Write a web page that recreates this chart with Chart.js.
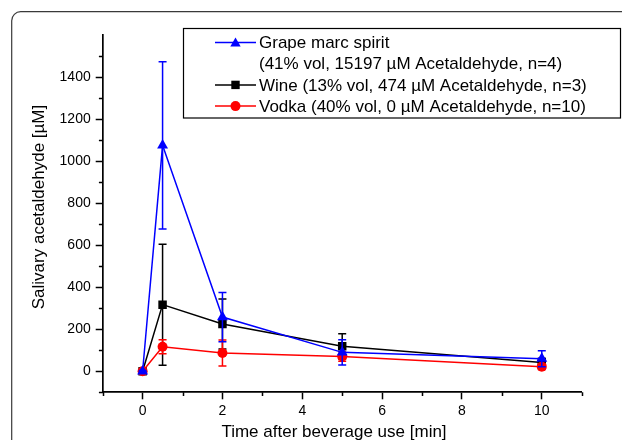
<!DOCTYPE html>
<html>
<head>
<meta charset="utf-8">
<script src="https://cdn.jsdelivr.net/npm/chart.js@4.4.1/dist/chart.umd.min.js"></script>
<style>
  html, body { margin: 0; padding: 0; background: #fff; }
  canvas { display: block; }
</style>
</head>
<body>
<canvas id="c" width="622" height="440"></canvas>
<script>
// ---- data ----
const timeMin = [0, 0.5, 2, 5, 10];
const grapeMean = [0, 1075, 258, 90, 60];
const grapeSD   = [4, 398, 117, 60, 38];
const wineMean  = [0, 317, 225, 119, 42];
const wineSD    = [4, 288, 119, 60, 20];
const vodkaMean = [0, 117, 87, 70, 22];
const vodkaSD   = [4, 33, 62, 22, 14];
const seriesNames = [
  ['Grape marc spirit', '(41% vol, 15197 \u00B5M Acetaldehyde, n=4)'],
  ['Wine (13% vol, 474 \u00B5M Acetaldehyde, n=3)'],
  ['Vodka (40% vol, 0 \u00B5M Acetaldehyde, n=10)']
];
const xTicks = [0, 2, 4, 6, 8, 10];
const xMinorTicks = [-1, 1, 3, 5, 7, 9, 11];
const yTicks = [0, 200, 400, 600, 800, 1000, 1200, 1400];
const yMinorTicks = [-100, 100, 300, 500, 700, 900, 1100, 1300, 1500];
const xTitle = 'Time after beverage use [min]';
const yTitle = 'Salivary acetaldehyde [\u00B5M]';

const FONT = '"Liberation Sans", Arial, sans-serif';
const BLUE = '#0000ff', BLACK = '#000000', RED = '#ff0000';

function pts(means) { return timeMin.map((t, i) => ({ x: t, y: means[i] })); }

function drawMarker(ctx, style, x, y, color) {
  ctx.save();
  ctx.fillStyle = color;
  ctx.beginPath();
  if (style === 'triangle') {
    const r = 6;
    ctx.moveTo(x, y - r);
    ctx.lineTo(x + r * Math.sin(2 * Math.PI / 3), y - r * Math.cos(2 * Math.PI / 3));
    ctx.lineTo(x + r * Math.sin(4 * Math.PI / 3), y - r * Math.cos(4 * Math.PI / 3));
    ctx.closePath();
  } else if (style === 'rect') {
    ctx.rect(x - 4.2, y - 4.2, 8.4, 8.4);
  } else {
    ctx.arc(x, y, 5, 0, Math.PI * 2);
  }
  ctx.fill();
  ctx.restore();
}

const errorBarPlugin = {
  id: 'errbars',
  beforeDatasetDraw(chart, args) {
    const ds = chart.data.datasets[args.index];
    if (!ds.sd) return;
    const { ctx, scales } = chart;
    ctx.save();
    ctx.strokeStyle = ds.borderColor;
    ctx.lineWidth = 1.5;
    ds.data.forEach((p, i) => {
      const x = scales.x.getPixelForValue(p.x);
      const yt = scales.y.getPixelForValue(p.y + ds.sd[i]);
      const yb = scales.y.getPixelForValue(p.y - ds.sd[i]);
      ctx.beginPath();
      ctx.moveTo(x, yt); ctx.lineTo(x, yb);
      ctx.moveTo(x - 4, yt); ctx.lineTo(x + 4, yt);
      ctx.moveTo(x - 4, yb); ctx.lineTo(x + 4, yb);
      ctx.stroke();
    });
    ctx.restore();
  }
};

const decorPlugin = {
  id: 'decor',
  beforeDraw(chart) {
    const ctx = chart.ctx;
    ctx.save();
    ctx.fillStyle = '#fff';
    ctx.fillRect(0, 0, chart.width, chart.height);
    // rounded frame
    ctx.strokeStyle = '#3a3a3a';
    ctx.lineWidth = 1.2;
    const l = 11.7, t = 11.7, r = 9;
    ctx.beginPath();
    ctx.moveTo(l, chart.height + 2);
    ctx.lineTo(l, t + r);
    ctx.arcTo(l, t, l + r, t, r);
    ctx.lineTo(chart.width + 2, t);
    ctx.stroke();
    ctx.restore();
  },
  afterDraw(chart) {
    const { ctx, scales, chartArea } = chart;
    ctx.save();
    // minor ticks
    ctx.strokeStyle = '#000';
    ctx.lineWidth = 1.5;
    ctx.beginPath();
    yMinorTicks.forEach(v => {
      const y = Math.round(scales.y.getPixelForValue(v)) + 0.5;
      ctx.moveTo(chartArea.left, y); ctx.lineTo(chartArea.left - 3.8, y);
    });
    xMinorTicks.forEach(v => {
      const x = Math.round(scales.x.getPixelForValue(v)) + 0.5;
      ctx.moveTo(x, chartArea.bottom); ctx.lineTo(x, chartArea.bottom + 3.8);
    });
    ctx.stroke();

    // axis titles
    ctx.fillStyle = '#000';
    ctx.font = '17px ' + FONT;
    ctx.textAlign = 'center';
    ctx.textBaseline = 'middle';
    ctx.fillText(xTitle, 334, 432);
    ctx.save();
    ctx.translate(39, 207);
    ctx.rotate(-Math.PI / 2);
    ctx.fillText(yTitle, 0, 0);
    ctx.restore();

    // legend box
    const bx = 183.5, by = 28.5, bw = 437, bh = 89.5;
    ctx.fillStyle = '#fff';
    ctx.fillRect(bx, by, bw, bh);
    ctx.strokeStyle = '#000';
    ctx.lineWidth = 1.2;
    ctx.strokeRect(bx, by, bw, bh);

    const entries = [
      { lines: seriesNames[0], color: BLUE, style: 'triangle' },
      { lines: seriesNames[1], color: BLACK, style: 'rect' },
      { lines: seriesNames[2], color: RED, style: 'circle' }
    ];
    let y = 42.5;
    const rowH = 21.2;
    ctx.font = '17px ' + FONT;
    ctx.textAlign = 'left';
    ctx.textBaseline = 'middle';
    entries.forEach(e => {
      ctx.strokeStyle = e.color;
      ctx.lineWidth = 1.5;
      ctx.beginPath();
      ctx.moveTo(215, y); ctx.lineTo(256, y);
      ctx.stroke();
      drawMarker(ctx, e.style, 235.5, e.style === 'triangle' ? y + 1 : y, e.color);
      ctx.fillStyle = '#000';
      e.lines.forEach((txt, k) => {
        ctx.fillText(txt, 259, y + 1 + k * rowH);
      });
      y += rowH * e.lines.length;
    });
    ctx.restore();
  }
};

const commonDs = { showLine: true, tension: 0, borderWidth: 1.5, pointBorderWidth: 0 };

new Chart(document.getElementById('c'), {
  type: 'scatter',
  data: {
    datasets: [
      Object.assign({}, commonDs, {
        label: seriesNames[0].join(' '), data: pts(grapeMean), sd: grapeSD,
        borderColor: BLUE, backgroundColor: BLUE, pointBackgroundColor: BLUE,
        pointStyle: 'triangle', pointRadius: 6.3
      }),
      Object.assign({}, commonDs, {
        label: seriesNames[2][0], data: pts(vodkaMean), sd: vodkaSD,
        borderColor: RED, backgroundColor: RED, pointBackgroundColor: RED,
        pointStyle: 'circle', pointRadius: 5
      }),
      Object.assign({}, commonDs, {
        label: seriesNames[1][0], data: pts(wineMean), sd: wineSD,
        borderColor: BLACK, backgroundColor: BLACK, pointBackgroundColor: BLACK,
        pointStyle: 'rect', pointRadius: 6
      })
    ]
  },
  options: {
    responsive: false,
    animation: false,
    devicePixelRatio: 1,
    events: [],
    layout: { padding: { left: 0, top: 35, right: 40.3, bottom: 0 } },
    plugins: { legend: { display: false }, tooltip: { enabled: false } },
    scales: {
      x: {
        type: 'linear', min: -1, max: 11,
        afterFit(scale) { scale.height = 47.7; },
        afterBuildTicks(scale) { scale.ticks = xTicks.map(v => ({ value: v })); },
        ticks: { color: '#000', font: { family: FONT, size: 14 }, padding: 3, maxRotation: 0,
                 callback: v => String(v) },
        grid: { display: true, drawOnChartArea: false, drawTicks: true, tickLength: 7,
                tickColor: '#000', tickWidth: 1.5 },
        border: { display: true, color: '#000', width: 1.7 }
      },
      y: {
        type: 'linear', min: -100, max: 1600,
        afterFit(scale) { scale.width = 102.7; },
        afterBuildTicks(scale) { scale.ticks = yTicks.map(v => ({ value: v })); },
        ticks: { color: '#000', font: { family: FONT, size: 14 }, padding: 5,
                 callback: v => String(v) },
        grid: { display: true, drawOnChartArea: false, drawTicks: true, tickLength: 7,
                tickColor: '#000', tickWidth: 1.5 },
        border: { display: true, color: '#000', width: 1.7 }
      }
    }
  },
  plugins: [errorBarPlugin, decorPlugin]
});
</script>
</body>
</html>
